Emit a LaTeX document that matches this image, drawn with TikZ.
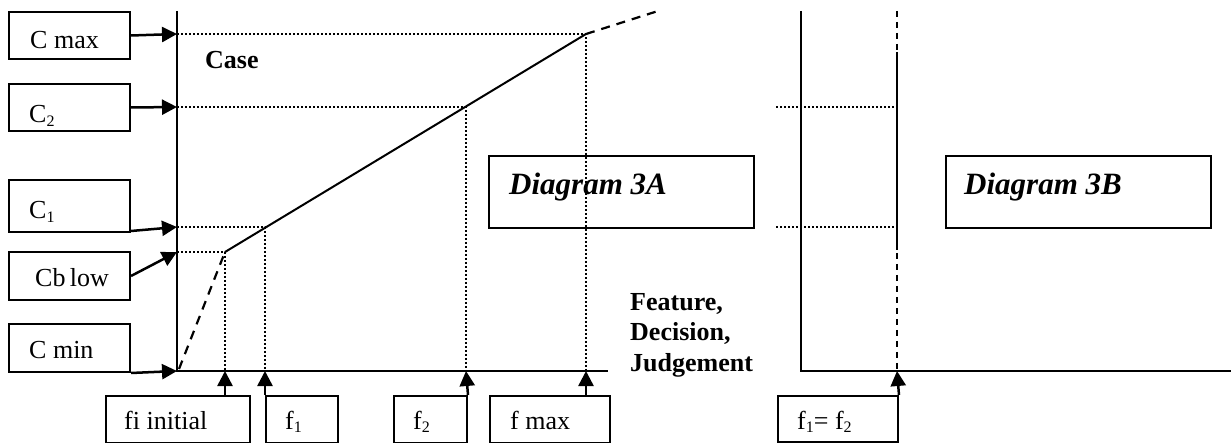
\documentclass[tikz,border=0pt]{standalone}
\usepackage{fontspec}
\setmainfont{Liberation Serif}
\usetikzlibrary{arrows.meta}
\newcommand{\lowsub}[1]{\raisebox{-0.3ex}{\fontsize{16}{16}\selectfont #1}}
\tikzset{
  box/.style={draw, line width=2pt, anchor=north west, inner sep=0pt},
  lbl/.style={anchor=base west, inner sep=0pt, font=\fontsize{26}{30}\selectfont},
  blbl/.style={anchor=base west, inner sep=0pt, font=\fontsize{26}{30}\selectfont\bfseries},
  dlbl/.style={anchor=base west, inner sep=0pt, font=\fontsize{31}{34}\selectfont\bfseries\itshape},
  axis/.style={line width=2pt},
  arr/.style={line width=2.5pt, -{Triangle[length=15pt,width=15pt]}},
  dots/.style={line width=2pt, dash pattern=on 2pt off 2pt},
  curve/.style={line width=2pt},
  dcurve/.style={line width=2.2pt, dash pattern=on 9pt off 7pt},
  vdash/.style={line width=1.8pt, dash pattern=on 6pt off 5pt}
}
\begin{document}
\begin{tikzpicture}[x=1pt,y=-1pt]
\useasboundingbox (0,0) rectangle (1231,443);
% ---------- Diagram 3A axes ----------
\coordinate (top) at (177,11);
\coordinate (org) at (177,371);
\coordinate (xend) at (608,371);
\draw[axis] (top) -- (org) -- (xend);
% key points
\coordinate (ymax) at (177,34);
\coordinate (y2) at (177,107);
\coordinate (y1) at (177,227);
\coordinate (yb) at (177,252);
\coordinate (pb) at (225,252);
\coordinate (p1) at (265,227);
\coordinate (p2) at (466,107);
\coordinate (pmax) at (586,34);
\coordinate (pend) at (658,11);
\coordinate (dstart) at (179,369);
\coordinate (xb) at (225,371);
\coordinate (x1) at (265,371);
\coordinate (x2) at (466,371);
\coordinate (xmax) at (586,371);
% dotted guides
\draw[dots] (ymax) -- (pmax) -- (xmax);
\draw[dots] (y2) -- (p2) -- (x2);
\draw[dots] (y1) -- (p1) -- (x1);
\draw[dots] (yb) -- (pb) -- (xb);
% curve
\draw[curve] (pb) -- (pmax);
\draw[dcurve] (pmax) -- (pend);
\draw[dcurve] (dstart) -- (pb);
% left boxes
\node[box, minimum width=121pt, minimum height=47pt] (cmaxbox) at (8,11) {};
\node[lbl] (cmax) at ([xshift=22pt,yshift=11pt]cmaxbox.south west) {C max};
\node[box, minimum width=121pt, minimum height=47pt] (c2box) at (8,83) {};
\node[lbl] (c2) at ([xshift=21pt,yshift=9pt]c2box.south west) {C\lowsub{2}};
\node[box, minimum width=121pt, minimum height=52pt] (c1box) at (8,179) {};
\node[lbl] (c1) at ([xshift=21pt,yshift=14pt]c1box.south west) {C\lowsub{1}};
\node[box, minimum width=121pt, minimum height=48pt] (cbbox) at (8,251) {};
\node[lbl] (cb) at ([xshift=27pt,yshift=14pt]cbbox.south west) {Cb\,low};
\node[box, minimum width=121pt, minimum height=48pt] (cminbox) at (8,323) {};
\node[lbl] (cmin) at ([xshift=21pt,yshift=14pt]cminbox.south west) {C min};
% left arrows
\draw[arr] (cmaxbox.east) -- (ymax);
\draw[arr] (c2box.east) -- (y2);
\draw[arr] ([yshift=2pt]c1box.south east) -- (y1);
\draw[arr] (cbbox.east) -- (yb);
\draw[arr] (cminbox.south east) -- (org);
% bottom boxes
\node[box, minimum width=144pt, minimum height=47pt] (fibox) at (105,395) {};
\node[lbl] (fi) at ([xshift=19pt,yshift=15pt]fibox.south west) {fi initial};
\node[box, minimum width=72pt, minimum height=47pt] (f1box) at (265,395) {};
\node[lbl] (f1) at ([xshift=20pt,yshift=15pt]f1box.south west) {f\lowsub{1}};
\node[box, minimum width=73pt, minimum height=47pt] (f2box) at (393,395) {};
\node[lbl] (f2) at ([xshift=20pt,yshift=15pt]f2box.south west) {f\lowsub{2}};
\node[box, minimum width=120pt, minimum height=47pt] (fmaxbox) at (489,395) {};
\node[lbl] (fmax) at ([xshift=21pt,yshift=15pt]fmaxbox.south west) {f max};
% bottom arrows
\draw[arr] (fibox.north -| xb) -- (xb);
\draw[arr] (f1box.north west) -- (x1);
\draw[arr] (f2box.north east) -- (x2);
\draw[arr] (fmaxbox.north -| xmax) -- (xmax);
% texts
\node[blbl] (case) at (205,69) {Case};
\node[blbl] (feat) at (630,311) {Feature,};
\node[blbl] (dec) at (630,341) {Decision,};
\node[blbl] (judg) at (630,371) {Judgement};
\node[box, minimum width=265pt, minimum height=72pt] (d3abox) at (488,155) {};
\node[dlbl] (d3a) at (509,195) {Diagram 3A};
% ---------- Diagram 3B ----------
\coordinate (btop) at (801,11);
\coordinate (borg) at (801,371);
\coordinate (bxend) at (1231,371);
\draw[axis] (btop) -- (borg) -- (bxend);
\coordinate (vtop) at (897,11);
\coordinate (vbot) at (897,371);
\coordinate (vs1) at (897,52);
\coordinate (vs2) at (897,250);
\draw[vdash] (vtop) -- (vbot);
\draw[line width=2pt] (vs1) -- (vs2);
\coordinate (bl2) at (776,107);
\coordinate (bl1) at (776,227);
\draw[dots] (bl2) -- (bl2 -| vtop);
\draw[dots] (bl1) -- (bl1 -| vtop);
\node[box, minimum width=265pt, minimum height=72pt] (d3bbox) at (945,155) {};
\node[dlbl] (d3b) at (964,195) {Diagram 3B};
\node[box, minimum width=120pt, minimum height=46pt] (f12box) at (777,395) {};
\node[lbl] (f12) at ([xshift=20pt,yshift=14pt]f12box.south west) {f\lowsub{1}= f\lowsub{2}};
\draw[arr] (f12box.north east) -- (vbot);
\end{tikzpicture}
\end{document}
